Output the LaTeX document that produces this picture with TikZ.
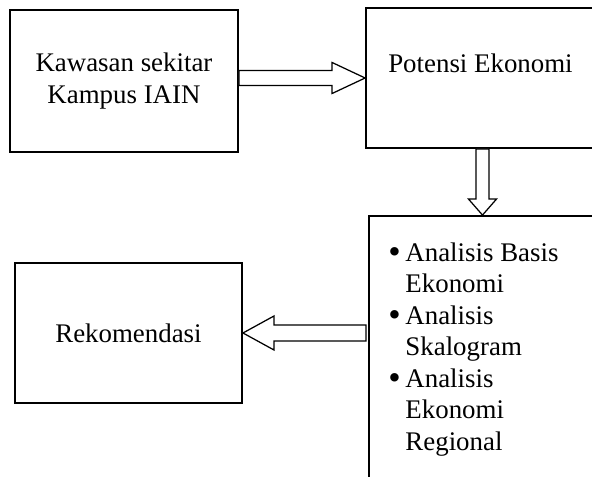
\documentclass[tikz,border=0pt]{standalone}
\usepackage{fontspec}
\setmainfont{Liberation Serif}
\usetikzlibrary{calc}
\newcommand{\bigbul}{\raisebox{-0.8pt}{\fontsize{17}{15}\selectfont\textbullet}}

\begin{document}
\begin{tikzpicture}[
    x=0.48pt, y=-0.48pt,
    every node/.style={font=\fontsize{12.9}{15.1}\selectfont},
    box/.style={rectangle, draw=black, line width=0.9pt, fill=white},
    blk/.style={draw=black, fill=white, line width=0.6pt, line join=miter},
]
\useasboundingbox (0,0) rectangle (592,477);
\clip (0,0) rectangle (592,477);

% ---------------- the four boxes
\node[box, minimum width=109.4pt, minimum height=68.2pt, align=center] (kaw)
    at (124,81) {Kawasan sekitar\\Kampus IAIN};
\node[box, minimum width=111.8pt, minimum height=67.2pt] (pot) at (482.5,78) {};
\node[anchor=base] (potT) at ($(pot.north)+(-2,65)$) {Potensi Ekonomi};
\node[box, minimum width=110.4pt, minimum height=145.9pt] (ana) at (484,368) {};
\node[anchor=north west, inner sep=0pt] (anaT) at ($(ana.north west)+(20,24)$) {%
    \begin{tabular}{@{}l@{\hspace{2.2pt}}l@{}}
    \bigbul & Analisis Basis\\
            & Ekonomi\\
    \bigbul & Analisis\\
            & Skalogram\\
    \bigbul & Analisis\\
            & Ekonomi\\
            & Regional
    \end{tabular}};
\node[box, minimum width=109pt, minimum height=67.2pt] (rek) at (128.5,333) {Rekomendasi};

% ---------------- block arrows
\coordinate (a1) at (kaw.east |- pot.west);
\draw[blk] ($(a1)+(0,-7.5)$) -- ($(pot.west)+(-33,-7.5)$) -- ($(pot.west)+(-33,-15.5)$)
    -- (pot.west) -- ($(pot.west)+(-33,15.5)$) -- ($(pot.west)+(-33,7.5)$)
    -- ($(a1)+(0,7.5)$) -- cycle;

\coordinate (a2) at (pot.south |- ana.north);
\draw[blk] ($(pot.south)+(-6.5,0)$) -- ($(a2)+(-6.5,-16)$) -- ($(a2)+(-14,-16)$)
    -- (a2) -- ($(a2)+(14,-16)$) -- ($(a2)+(6.5,-16)$)
    -- ($(pot.south)+(6.5,0)$) -- cycle;

\coordinate (a3) at (ana.west |- rek.east);
\draw[blk] ($(a3)+(-2,-8)$) -- ($(rek.east)+(31,-8)$) -- ($(rek.east)+(31,-17)$)
    -- (rek.east) -- ($(rek.east)+(31,17)$) -- ($(rek.east)+(31,8)$)
    -- ($(a3)+(-2,8)$) -- cycle;
\end{tikzpicture}
\end{document}
